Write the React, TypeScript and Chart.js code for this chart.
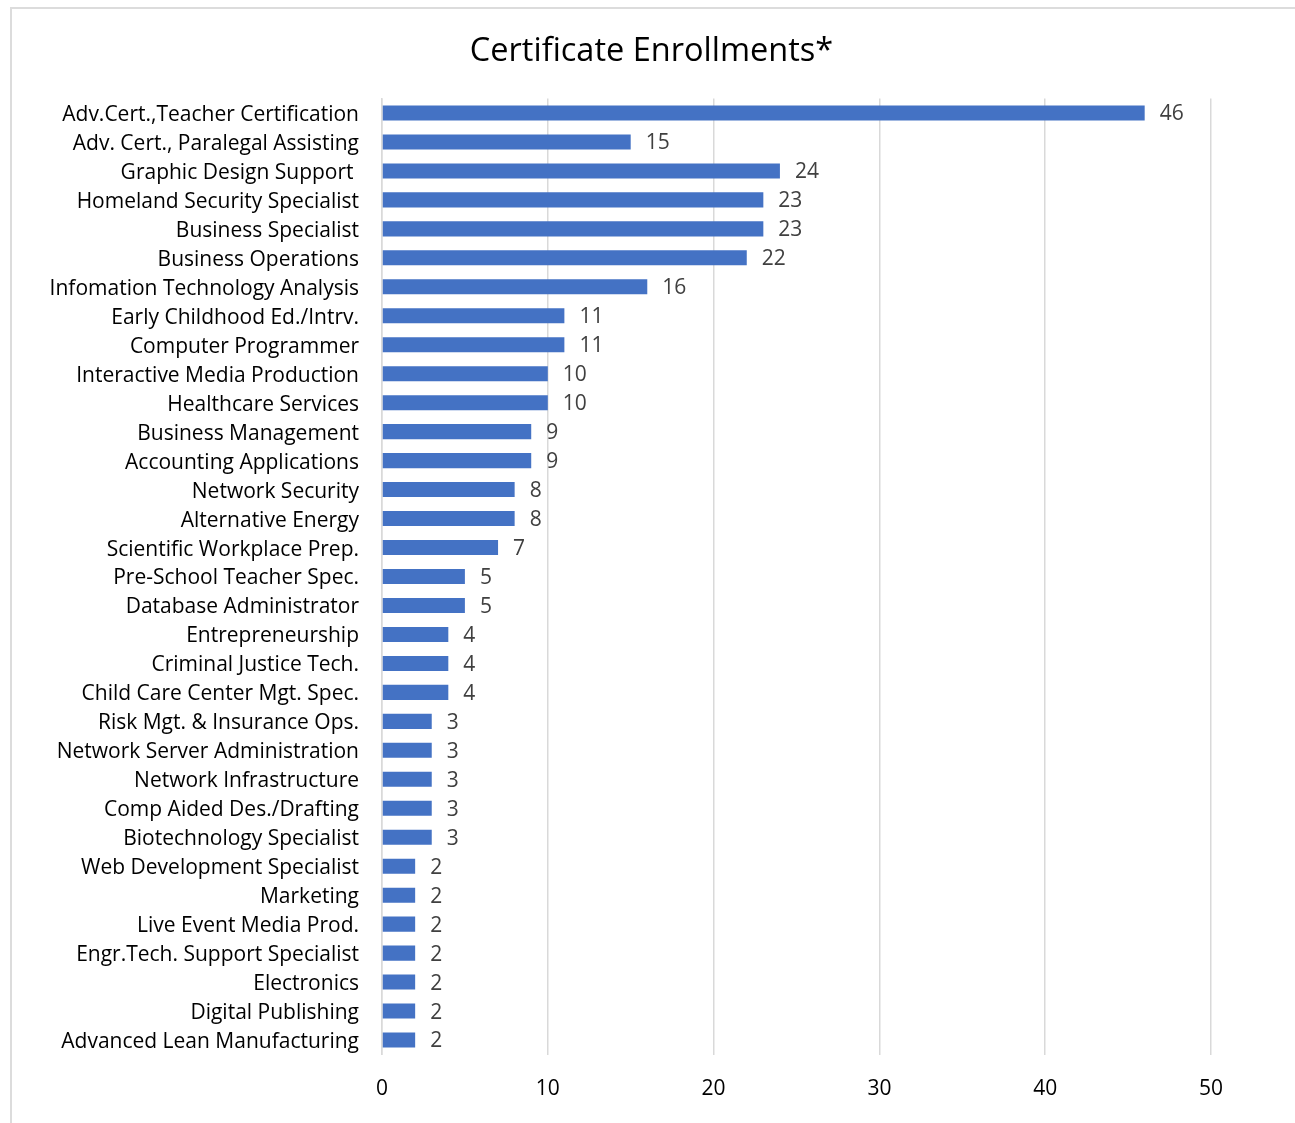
import React, { useEffect, useRef } from "react";
import { Chart, registerables } from "chart.js";

Chart.register(...registerables);

const categories: string[] = [
  "Adv.Cert.,Teacher Certification",
  "Adv. Cert., Paralegal Assisting",
  "Graphic Design Support ",
  "Homeland Security Specialist",
  "Business Specialist",
  "Business Operations",
  "Infomation Technology Analysis",
  "Early Childhood Ed./Intrv.",
  "Computer Programmer",
  "Interactive Media Production",
  "Healthcare Services",
  "Business Management",
  "Accounting Applications",
  "Network Security",
  "Alternative Energy",
  "Scientific Workplace Prep.",
  "Pre-School Teacher Spec.",
  "Database Administrator",
  "Entrepreneurship",
  "Criminal Justice Tech.",
  "Child Care Center Mgt. Spec.",
  "Risk Mgt. & Insurance Ops.",
  "Network Server Administration",
  "Network Infrastructure",
  "Comp Aided Des./Drafting",
  "Biotechnology Specialist",
  "Web Development Specialist",
  "Marketing",
  "Live Event Media Prod.",
  "Engr.Tech. Support Specialist",
  "Electronics",
  "Digital Publishing",
  "Advanced Lean Manufacturing",
];

const enrollments: number[] = [
  46, 15, 24, 23, 23, 22, 16, 11, 11, 10, 10, 9, 9, 8, 8, 7, 5, 5, 4, 4, 4, 3, 3, 3, 3, 3, 2, 2, 2, 2, 2, 2, 2,
];

const xTicks: number[] = [0, 10, 20, 30, 40, 50];

const chartTitle = "Certificate Enrollments*";

const FONT = "'Open Sans', Lato, sans-serif";

const valueLabels = {
  id: "valueLabels",
  afterDatasetsDraw(chart: any) {
    const ctx = chart.ctx;
    const meta = chart.getDatasetMeta(0);
    const data = chart.data.datasets[0].data as number[];
    ctx.save();
    ctx.font = `21px ${FONT}`;
    ctx.fillStyle = "#404040";
    ctx.textAlign = "left";
    ctx.textBaseline = "middle";
    meta.data.forEach((bar: any, i: number) => {
      ctx.fillText(String(data[i]), bar.x + 15, bar.y + 1.5);
    });
    ctx.restore();
  },
};

const titlePlugin = {
  id: "customTitle",
  afterDraw(chart: any) {
    const ctx = chart.ctx;
    ctx.save();
    ctx.font = `32.5px ${FONT}`;
    ctx.fillStyle = "#000000";
    ctx.textAlign = "center";
    ctx.textBaseline = "middle";
    ctx.fillText(chartTitle, 651.5, 52);
    ctx.restore();
  },
};

export default function App() {
  const ref = useRef<HTMLCanvasElement | null>(null);

  useEffect(() => {
    if (!ref.current) return;
    const chart = new Chart(ref.current, {
      type: "bar",
      data: {
        labels: categories,
        datasets: [
          {
            data: enrollments,
            backgroundColor: "#4472C4",
            borderWidth: 0,
            barPercentage: 0.52,
            categoryPercentage: 1,
          },
        ],
      },
      options: {
        indexAxis: "y",
        animation: false,
        responsive: false,
        maintainAspectRatio: false,
        layout: { padding: { left: 0, right: 84, top: 98.5, bottom: 25.5 } },
        plugins: {
          legend: { display: false },
          tooltip: { enabled: false },
          title: { display: false },
        },
        scales: {
          x: {
            min: 0,
            max: 50,
            afterBuildTicks: (scale: any) => {
              scale.ticks = xTicks.map((v) => ({ value: v }));
            },
            afterFit: (scale: any) => {
              scale.height = 43;
            },
            grid: { color: "#d9d9d9", lineWidth: 1.5, drawTicks: false },
            border: { display: false },
            ticks: {
              color: "#000000",
              padding: 22,
              maxRotation: 0,
              font: { family: FONT, size: 21 },
            },
          },
          y: {
            afterFit: (scale: any) => {
              scale.width = 382;
            },
            grid: { display: false, drawTicks: false },
            border: { display: true, color: "#d9d9d9", width: 1.5 },
            ticks: {
              color: "#000000",
              padding: 23,
              labelOffset: 2,
              autoSkip: false,
              font: { family: FONT, size: 21 },
            },
          },
        },
      },
      plugins: [valueLabels, titlePlugin],
    });
    return () => chart.destroy();
  }, []);

  return (
    <div style={{ position: "absolute", left: 0, top: 0, width: 1295, height: 1123, background: "#fff" }}>
      <div
        style={{
          position: "absolute",
          left: 10,
          top: 7,
          width: 1295,
          height: 1130,
          border: "2px solid #dcdcdc",
          boxSizing: "border-box",
        }}
      />
      <canvas ref={ref} width={1295} height={1123} style={{ position: "absolute", left: 0, top: 0 }} />
    </div>
  );
}
